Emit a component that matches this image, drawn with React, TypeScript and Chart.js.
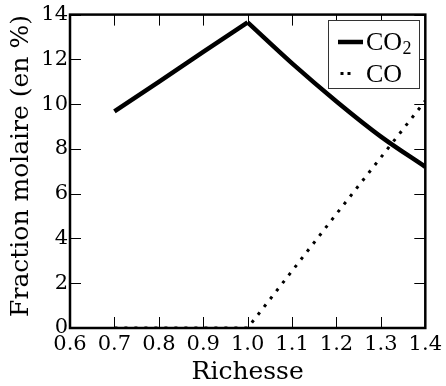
import { useEffect, useRef } from "react";
import { Chart, registerables } from "chart.js";

Chart.register(...registerables);

// ---- data ----
const richesse = [0.7, 0.8, 0.9, 1.0, 1.1, 1.2, 1.3, 1.4];
const fractionCO2 = [9.68, 11.0, 12.33, 13.65, 11.82, 10.12, 8.55, 7.2];
const fractionCO = [0, 0, 0, 0, 2.55, 5.1, 7.62, 10.15];
const stoichiometric = 1.0;
const xTickValues = [0.6, 0.7, 0.8, 0.9, 1.0, 1.1, 1.2, 1.3, 1.4];
const yTickValues = [0, 2, 4, 6, 8, 10, 12, 14];
const xTitle = "Richesse";
const yTitle = "Fraction molaire (en %)";
const legendMain = ["CO", "CO"];
const legendSub = ["2", ""];

const SERIF = "'DejaVu Serif', serif";
const LEG_FONT = "'Liberation Serif', 'DejaVu Serif', serif";

const framePlugin = {
  id: "framePlugin",
  afterDatasetsDraw(chart: any) {
    const { ctx, chartArea, scales } = chart;
    const { left, right, top, bottom } = chartArea;
    const xs = scales.x;
    const ys = scales.y;
    const L = 11;
    ctx.save();
    ctx.strokeStyle = "#000";
    ctx.lineWidth = 1;
    ctx.beginPath();
    for (const v of xTickValues) {
      const px = Math.round(xs.getPixelForValue(v)) + 0.5;
      ctx.moveTo(px, bottom);
      ctx.lineTo(px, bottom - L);
      ctx.moveTo(px, top);
      ctx.lineTo(px, top + L);
    }
    for (const v of yTickValues) {
      const py = Math.round(ys.getPixelForValue(v)) + 0.5;
      ctx.moveTo(left, py);
      ctx.lineTo(left + L, py);
      ctx.moveTo(right, py);
      ctx.lineTo(right - L, py);
    }
    ctx.stroke();
    ctx.lineWidth = 2.5;
    ctx.strokeRect(left, top, right - left, bottom - top);

    // y axis title
    ctx.save();
    ctx.translate(21, 166);
    ctx.rotate(-Math.PI / 2);
    ctx.fillStyle = "#000";
    ctx.font = `25px ${SERIF}`;
    ctx.textAlign = "center";
    ctx.textBaseline = "middle";
    ctx.fillText(yTitle, 0, 0);
    ctx.restore();

    // legend
    const bx = 328.5, by = 20.5, bw = 91, bh = 68;
    ctx.fillStyle = "#fff";
    ctx.fillRect(bx, by, bw, bh);
    ctx.lineWidth = 1;
    ctx.strokeStyle = "#333";
    ctx.strokeRect(bx, by, bw, bh);

    ctx.strokeStyle = "#000";
    ctx.lineWidth = 4.5;
    ctx.lineCap = "butt";
    ctx.beginPath();
    ctx.moveTo(338, 42);
    ctx.lineTo(363, 42);
    ctx.stroke();

    ctx.lineWidth = 3;
    ctx.beginPath();
    ctx.moveTo(340.5, 73.5);
    ctx.lineTo(343.5, 73.5);
    ctx.moveTo(347.5, 73.5);
    ctx.lineTo(350.5, 73.5);
    ctx.stroke();

    ctx.fillStyle = "#000";
    ctx.textAlign = "left";
    ctx.textBaseline = "alphabetic";
    ctx.font = `26px ${LEG_FONT}`;
    ctx.fillText(legendMain[0], 366, 50);
    const w = ctx.measureText(legendMain[0]).width;
    ctx.font = `18px ${LEG_FONT}`;
    ctx.fillText(legendSub[0], 366 + w + 0.5, 54);
    ctx.font = `26px ${LEG_FONT}`;
    ctx.fillText(legendMain[1], 366, 82);
    ctx.restore();
  },
};

export default function App() {
  const ref = useRef<HTMLCanvasElement | null>(null);
  useEffect(() => {
    document.body.style.margin = "0";
    const canvas = ref.current!;
    const pts = (arr: number[]) => richesse.map((x, i) => ({ x, y: arr[i] }));
    const co2All = pts(fractionCO2);
    const co2Lean = co2All.filter((p) => p.x <= stoichiometric);
    const co2Rich = co2All.filter((p) => p.x >= stoichiometric);
    const chart = new Chart(canvas, {
      type: "line",
      data: {
        datasets: [
          {
            label: "CO2",
            data: co2Lean,
            borderColor: "#000",
            borderWidth: 4.5,
            pointRadius: 0,
            tension: 0,
            fill: false,
          },
          {
            label: "CO2 (riche)",
            data: co2Rich,
            borderColor: "#000",
            borderWidth: 4.5,
            pointRadius: 0,
            cubicInterpolationMode: "monotone",
            fill: false,
          },
          {
            label: "CO",
            data: pts(fractionCO),
            borderColor: "#000",
            borderWidth: 3,
            borderDash: [3, 7],
            borderCapStyle: "butt",
            pointRadius: 0,
            tension: 0,
            fill: false,
          },
        ],
      },
      options: {
        responsive: false,
        animation: false,
        events: [],
        layout: { padding: { left: 0, top: 14, right: 20, bottom: 0 } },
        plugins: { legend: { display: false }, tooltip: { enabled: false } },
        scales: {
          x: {
            type: "linear",
            min: 0.6,
            max: 1.4,
            afterBuildTicks: (s: any) => {
              s.ticks = xTickValues.map((v) => ({ value: v }));
            },
            afterFit: (s: any) => {
              s.height = 58;
            },
            grid: { display: false, drawTicks: false },
            border: { display: false },
            ticks: {
              color: "#000",
              font: { family: SERIF, size: 21 },
              padding: 4,
              maxRotation: 0,
              autoSkip: false,
              callback: (v: any) => Number(v).toFixed(1),
            },
            title: {
              display: true,
              text: xTitle,
              color: "#000",
              font: { family: SERIF, size: 25, lineHeight: 1 },
              padding: { top: 0, bottom: 1 },
            },
          },
          y: {
            type: "linear",
            min: 0,
            max: 14,
            afterBuildTicks: (s: any) => {
              s.ticks = yTickValues.map((v) => ({ value: v }));
            },
            afterFit: (s: any) => {
              s.width = 70;
            },
            grid: { display: false, drawTicks: false },
            border: { display: false },
            ticks: {
              color: "#000",
              font: { family: SERIF, size: 21 },
              padding: 2,
              autoSkip: false,
              callback: (v: any) => String(v),
            },
            title: { display: false },
          },
        },
      },
      plugins: [framePlugin],
    } as any);
    return () => chart.destroy();
  }, []);
  return (
    <div style={{ position: "absolute", left: 0, top: 0, width: 446, height: 386, background: "#fff" }}>
      <canvas ref={ref} width={446} height={386} style={{ display: "block" }} />
    </div>
  );
}
